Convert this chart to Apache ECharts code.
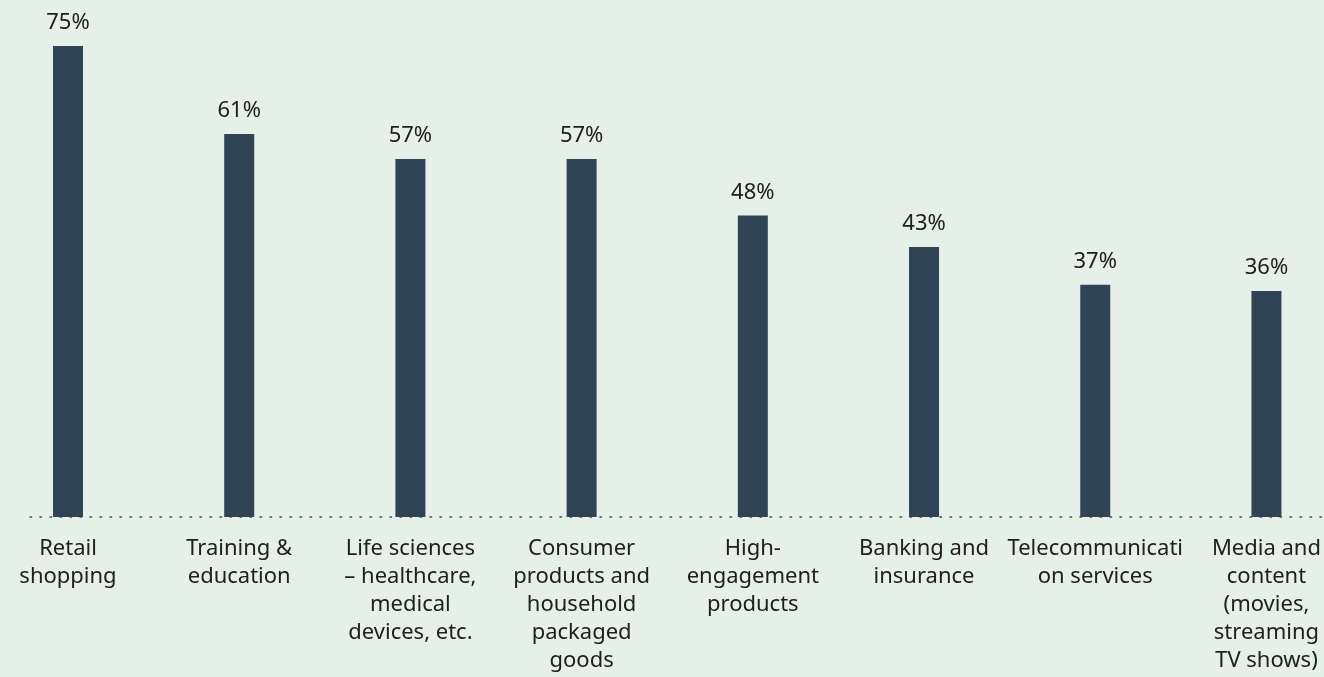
<!DOCTYPE html>
<html>
<head>
<meta charset="utf-8">
<title>Share by industry</title>
<script src="https://cdn.jsdelivr.net/npm/echarts@6/dist/echarts.min.js"></script>
<style>
  html, body { margin: 0; padding: 0; background: #e5f0e8; }
  #chart { width: 1324px; height: 677px; }
</style>
</head>
<body>
<div id="chart"></div>
<script>
// Industry categories (line breaks as shown under each bar)
const categories = [
  'Retail\nshopping',
  'Training &\neducation',
  'Life sciences\n– healthcare,\nmedical\ndevices, etc.',
  'Consumer\nproducts and\nhousehold\npackaged\ngoods',
  'High-\nengagement\nproducts',
  'Banking and\ninsurance',
  'Telecommunicati\non services',
  'Media and\ncontent\n(movies,\nstreaming\nTV shows)'
];

// Share of respondents, in percent
const values = [75, 61, 57, 57, 48, 43, 37, 36];

const FONT = '"Noto Sans", "Open Sans", sans-serif';
const TEXT = '#202020';
const BAR = '#2f4556';

const chart = echarts.init(document.getElementById('chart'), null, { renderer: 'canvas' });

chart.setOption({
  backgroundColor: '#e5f0e8',
  animation: false,
  textStyle: { fontFamily: FONT },
  grid: [
    // bars: first and last category sit on the grid edges
    { left: 68, right: 52, top: 46, bottom: 160, containLabel: false },
    // dotted baseline spanning the full width
    { left: 30, right: 0, top: 46, bottom: 160, containLabel: false }
  ],
  xAxis: [
    {
      type: 'category',
      gridIndex: 0,
      data: categories,
      boundaryGap: false,
      axisLine: { show: false },
      axisTick: { show: false },
      axisLabel: {
        interval: 0,
        margin: 18,
        color: TEXT,
        fontFamily: FONT,
        fontSize: 22,
        lineHeight: 28,
        align: 'center'
      }
    },
    {
      type: 'value',
      gridIndex: 1,
      min: 0,
      max: 1,
      axisLine: {
        show: true,
        lineStyle: { color: '#4a4a4a', width: 1.5, type: [1.5, 8.5] }
      },
      axisTick: { show: false },
      axisLabel: { show: false },
      splitLine: { show: false }
    }
  ],
  yAxis: [
    {
      type: 'value',
      gridIndex: 0,
      min: 0,
      max: function (v) { return v.max; },
      axisLine: { show: false },
      axisTick: { show: false },
      axisLabel: { show: false },
      splitLine: { show: false }
    },
    {
      type: 'value',
      gridIndex: 1,
      show: false
    }
  ],
  series: [
    {
      type: 'bar',
      xAxisIndex: 0,
      yAxisIndex: 0,
      data: values,
      barWidth: 30,
      itemStyle: { color: BAR },
      label: {
        show: true,
        position: 'top',
        distance: 12,
        color: TEXT,
        fontFamily: FONT,
        fontSize: 22,
        formatter: function (p) { return p.value + '%'; }
      }
    }
  ]
});
</script>
</body>
</html>
